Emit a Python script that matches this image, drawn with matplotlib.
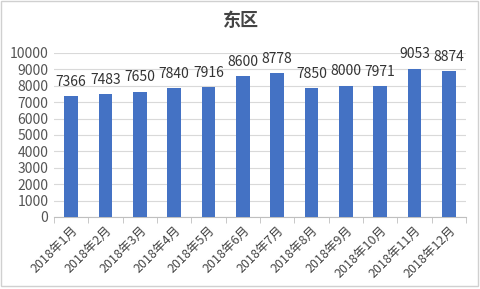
import matplotlib
matplotlib.use("Agg")
import matplotlib.pyplot as plt
from matplotlib.patches import Rectangle

plt.rcParams['font.family'] = ['Noto Sans CJK SC', 'DejaVu Sans']

categories = ["2018年1月", "2018年2月", "2018年3月", "2018年4月", "2018年5月", "2018年6月",
              "2018年7月", "2018年8月", "2018年9月", "2018年10月", "2018年11月", "2018年12月"]
values = [7366, 7483, 7650, 7840, 7916, 8600, 8778, 7850, 8000, 7971, 9053, 8874]
yticks = list(range(0, 10001, 1000))
title = "东区"

fig = plt.figure(figsize=(4.81, 2.89), dpi=100)
ax = fig.add_axes([54/481, 1 - 217/289, (466-54)/481, (217-53)/289])

x = list(range(len(categories)))
bars = ax.bar(x, values, width=0.4, color="#4472c4", zorder=3)
for xi, v in zip(x, values):
    ax.text(xi, v + 450, str(v), ha="center", va="bottom", fontsize=10, color="#333333")

ax.set_xlim(-0.5, len(categories) - 0.5)
ax.set_ylim(0, 10000)
ax.set_yticks(yticks)
ax.set_yticklabels([str(t) for t in yticks], fontsize=10, color="#555555")
ax.set_xticks(x)
ax.set_xticklabels(categories, rotation=45, ha="right", rotation_mode="anchor", fontsize=9, color="#444444")
ax.set_xticks([i - 0.5 for i in range(len(categories) + 1)], minor=True)
ax.tick_params(axis="x", which="minor", length=4, color="#bfbfbf")
ax.tick_params(axis="y", length=0, pad=4)
ax.tick_params(axis="x", which="major", length=0, pad=5)
ax.grid(axis="y", color="#d9d9d9", linewidth=0.8, zorder=0)
for s in ["top", "right", "left"]:
    ax.spines[s].set_visible(False)
ax.spines["bottom"].set_color("#bfbfbf")

fig.text(0.5, 1 - 20/289, title, ha="center", va="center", fontsize=13, fontweight="bold", color="#444444")
fig.patches.append(Rectangle((0.003, 0.01), 0.99, 0.985, transform=fig.transFigure, fill=False,
                             edgecolor="#d0d0d0", linewidth=1))
fig.savefig("out.png", dpi=100)
